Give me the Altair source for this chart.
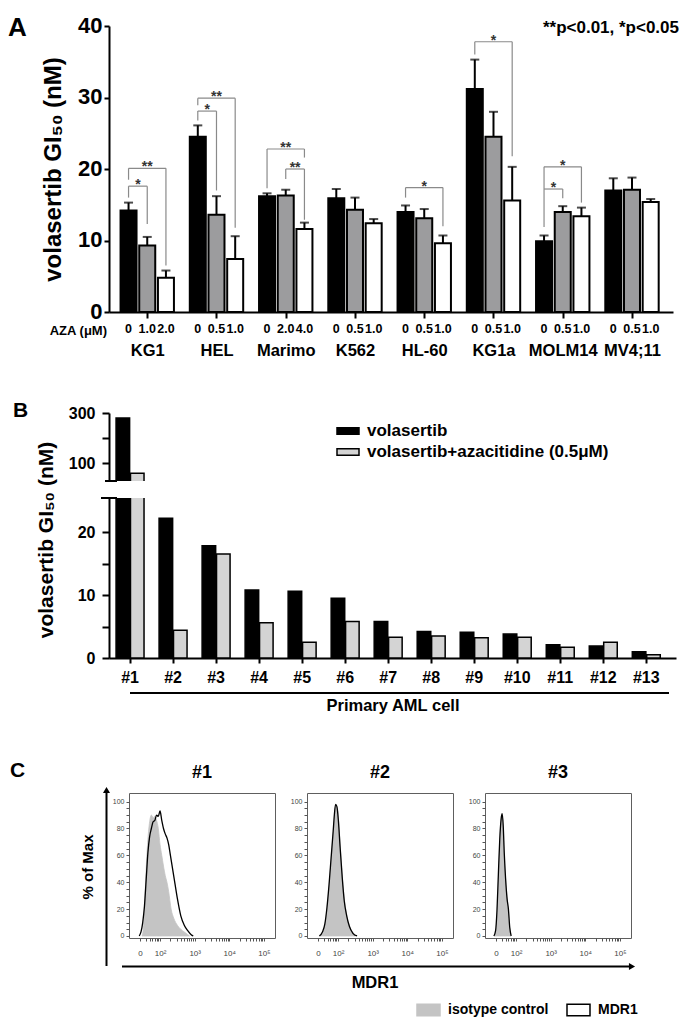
import json
import math
import altair as alt
import pandas as pd

FONT = "Liberation Sans, Arial, Helvetica, sans-serif"

# ---------------- Panel A data ----------------
cell_lines = ["KG1", "HEL", "Marimo", "K562", "HL-60", "KG1a", "MOLM14", "MV4;11"]
aza_dose_labels = [["0", "1.0", "2.0"], ["0", "0.5", "1.0"], ["0", "2.0", "4.0"], ["0", "0.5", "1.0"],
                   ["0", "0.5", "1.0"], ["0", "0.5", "1.0"], ["0", "0.5", "1.0"], ["0", "0.5", "1.0"]]
gi50_no_aza = [14.2, 24.5, 16.2, 15.9, 14.0, 31.2, 9.9, 17.0]
gi50_low_aza = [9.3, 13.6, 16.3, 14.3, 13.1, 24.5, 14.0, 17.1]
gi50_high_aza = [4.8, 7.4, 11.6, 12.4, 9.6, 15.6, 13.4, 15.4]
sd_no_aza = [1.1, 1.6, 0.4, 1.3, 0.9, 4.1, 0.8, 1.7]
sd_low_aza = [1.2, 2.6, 0.8, 1.7, 1.3, 3.5, 0.8, 1.7]
sd_high_aza = [1.0, 3.2, 0.9, 0.6, 1.1, 4.7, 1.2, 0.4]

sig_line = [0, 0, 1, 1, 2, 2, 4, 5, 6, 6]
sig_from = [0, 0, 0, 0, 0, 1, 0, 0, 0, 0]
sig_to = [1, 2, 1, 2, 2, 2, 2, 2, 1, 2]
sig_level = [17.6, 20.1, 28.1, 29.9, 22.8, 20.0, 17.4, 37.8, 17.2, 20.3]
sig_left_end = [16.0, 18.5, 26.8, 28.9, 17.3, 18.6, 16.0, 36.0, 11.9, 17.2]
sig_right_end = [12.3, 6.5, 17.0, 11.8, 21.6, 12.9, 12.0, 21.8, 15.9, 15.3]
sig_label = ["*", "**", "*", "**", "**", "**", "*", "*", "*", "*"]

# ---------------- Panel B data ----------------
patients = ["#1", "#2", "#3", "#4", "#5", "#6", "#7", "#8", "#9", "#10", "#11", "#12", "#13"]
treatments = ["volasertib", "volasertib+azacitidine (0.5μM)"]
gi50_volasertib = [280, 22.2, 17.8, 10.8, 10.6, 9.5, 5.8, 4.2, 4.1, 3.8, 2.1, 1.9, 1.0]
gi50_combination = [61, 4.4, 16.5, 5.6, 2.5, 5.8, 3.3, 3.5, 3.2, 3.3, 1.7, 2.5, 0.5]

# ---------------- Panel C data (x in log10 fluorescence units) ----------------
series_names = ["isotype control", "MDR1"]
hist_titles = ["#1", "#2", "#3"]
iso1_u = [1.48, 1.52, 1.56, 1.60, 1.65, 1.70, 1.75, 1.80, 1.85, 1.90, 1.95, 2.00, 2.05, 2.10, 2.15, 2.20, 2.25, 2.32, 2.40, 2.50, 2.60, 2.70, 2.80, 2.85]
iso1_pct = [0, 6, 25, 50, 72, 85, 90, 88, 89, 86, 80, 68, 60, 52, 45, 40, 33, 20, 13, 8, 5, 3, 1, 0]
mdr1_u = [1.40, 1.45, 1.50, 1.55, 1.60, 1.65, 1.70, 1.75, 1.80, 1.85, 1.90, 1.95, 2.00, 2.05, 2.10, 2.15, 2.20, 2.25, 2.30, 2.40, 2.50, 2.60, 2.70, 2.80, 2.90, 2.96]
mdr1_pct = [0, 3, 10, 22, 42, 62, 74, 80, 85, 86, 90, 89, 93, 86, 80, 76, 73, 68, 60, 44, 28, 15, 8, 4, 1, 0]
iso2_u = [1.48, 1.56, 1.62, 1.68, 1.74, 1.80, 1.86, 1.91, 1.94, 1.98, 2.02, 2.07, 2.12, 2.18, 2.24, 2.32, 2.42, 2.52]
iso2_pct = [0, 2, 8, 20, 36, 56, 76, 92, 96, 94, 84, 65, 45, 28, 17, 8, 3, 0]
mdr2_u = [1.46, 1.55, 1.62, 1.68, 1.74, 1.80, 1.86, 1.90, 1.93, 1.97, 2.01, 2.06, 2.12, 2.18, 2.25, 2.33, 2.43, 2.55]
mdr2_pct = [0, 3, 9, 21, 38, 58, 78, 92, 98, 96, 86, 66, 44, 26, 15, 7, 2, 0]
iso3_u = [1.37, 1.42, 1.46, 1.50, 1.54, 1.58, 1.61, 1.64, 1.68, 1.72, 1.76, 1.80, 1.84]
iso3_pct = [0, 4, 20, 48, 75, 90, 88, 70, 50, 35, 24, 10, 0]
mdr3_u = [1.36, 1.41, 1.45, 1.49, 1.53, 1.57, 1.60, 1.63, 1.66, 1.70, 1.74, 1.78, 1.82, 1.86]
mdr3_pct = [0, 4, 19, 46, 72, 87, 91, 82, 62, 42, 28, 20, 6, 0]

one = pd.DataFrame({"k": [0]})
IND = dict(fill="independent", stroke="independent")


def label(text, x, y, size, angle=0, align="left", baseline="alphabetic", weight="bold", color="black"):
    return alt.Chart(one).mark_text(text=text, font=FONT, fontSize=size, fontWeight=weight, angle=angle,
                                    align=align, baseline=baseline, color=color).encode(
        x=alt.value(x), y=alt.value(y))


def rule(x, x2, y, y2, width=2, color="black"):
    return alt.Chart(one).mark_rule(strokeWidth=width, color=color).encode(
        x=alt.value(x), x2=alt.value(x2), y=alt.value(y), y2=alt.value(y2))


def spacer(h):
    return alt.Chart(one).mark_text(text="").encode(x=alt.value(0)).properties(width=1, height=h)


# ================= Panel A =================
offs = [-0.27, 0.0, 0.27]
rowsA = []
for gi, name in enumerate(cell_lines):
    for di, (vals, sds) in enumerate([(gi50_no_aza, sd_no_aza), (gi50_low_aza, sd_low_aza), (gi50_high_aza, sd_high_aza)]):
        rowsA.append({"line": name, "pos": gi + offs[di], "dose": di, "dose_label": aza_dose_labels[gi][di],
                      "gi50": vals[gi], "upper": vals[gi] + sds[gi]})
dfA = pd.DataFrame(rowsA)

segs, stars = [], []
for k in range(len(sig_line)):
    xf = sig_line[k] + offs[sig_from[k]]
    xt = sig_line[k] + offs[sig_to[k]]
    segs.append({"pos": xf, "pos2": xt, "gi50": sig_level[k], "gi50b": sig_level[k]})
    segs.append({"pos": xf, "pos2": xf, "gi50": sig_level[k], "gi50b": sig_left_end[k]})
    segs.append({"pos": xt, "pos2": xt, "gi50": sig_level[k], "gi50b": sig_right_end[k]})
    stars.append({"pos": (xf + xt) / 2, "gi50": sig_level[k], "label": sig_label[k]})
dfSeg = pd.DataFrame(segs)
dfStar = pd.DataFrame(stars)

WA, HA = 564, 286
xA = alt.Scale(domain=[-0.48, 7.52], nice=False, zero=False)
yA = alt.Scale(domain=[0, 40], nice=False)

barsA = alt.Chart(dfA).mark_bar(width=16, stroke="black", strokeWidth=2).encode(
    x=alt.X("pos:Q", scale=xA, axis=alt.Axis(
        values=list(range(len(cell_lines))), labelExpr=json.dumps(cell_lines) + "[datum.value]",
        title=None, domainWidth=2, tickWidth=2, tickSize=6, labelFont=FONT, labelFontSize=16.5,
        labelFontWeight="bold", labelPadding=24, labelOverlap=False, labelFlush=False)),
    y=alt.Y("gi50:Q", scale=yA, axis=alt.Axis(
        values=[0, 10, 20, 30, 40], title="volasertib GI₅₀ (nM)", titleFont=FONT, titleFontSize=24,
        titleFontWeight="bold", titlePadding=12, labelFont=FONT, labelFontSize=22, labelFontWeight="bold",
        labelPadding=2, labelOffset=-1, tickSize=5, tickWidth=2, domainWidth=2)),
    fill=alt.Fill("dose:N", scale=alt.Scale(domain=[0, 1, 2], range=["black", "#9c9c9e", "white"]), legend=None),
)
errA = alt.Chart(dfA).mark_rule(color="black", strokeWidth=2).encode(
    x="pos:Q", y="gi50:Q", y2="upper:Q")
capA = alt.Chart(dfA).mark_tick(color="black", orient="horizontal", size=9, thickness=2).encode(
    x="pos:Q", y=alt.Y("upper:Q", title="volasertib GI₅₀ (nM)"))
brA = alt.Chart(dfSeg).mark_rule(color="#8a8a8a", strokeWidth=1.2).encode(
    x="pos:Q", x2="pos2:Q", y="gi50:Q", y2="gi50b:Q")
starA = alt.Chart(dfStar).mark_text(font=FONT, fontSize=14, fontWeight="bold", color="#333333",
                                    baseline="alphabetic", dy=3).encode(
    x="pos:Q", y="gi50:Q", text="label:N")
concA = alt.Chart(dfA).mark_text(font=FONT, fontSize=12.5, fontWeight="bold", baseline="middle").encode(
    x="pos:Q", y=alt.value(HA + 17), text="dose_label:N")

panelA = alt.layer(
    barsA, errA, capA, brA, starA, concA,
    label("AZA (μM)", -2, HA + 19, 13, align="right", baseline="middle"),
    label("**p<0.01, *p<0.05", 570, 2, 17, align="right", baseline="middle"),
    label("A", -101, 10, 26),
).properties(width=WA, height=HA)

# ================= Panel B =================
dfB = pd.DataFrame({
    "patient": patients * 2,
    "treatment": [treatments[0]] * len(patients) + [treatments[1]] * len(patients),
    "gi50": gi50_volasertib + gi50_combination,
})
WB, HBU, HBL = 567, 68, 160
xB = alt.Scale(domain=patients, paddingInner=0.35, paddingOuter=0.265, align=0.31)
xoffB = alt.XOffset("treatment:N", scale=alt.Scale(domain=treatments, paddingInner=0.06))
legB = alt.Legend(title=None, orient="none", legendX=227, legendY=6, direction="vertical",
                  symbolType="M-1,-0.3H1V0.3H-1Z", symbolSize=484, symbolStrokeColor="black",
                  symbolStrokeWidth=1.5, labelFont=FONT, labelFontSize=17, labelFontWeight="bold",
                  labelOffset=7, rowPadding=1, labelLimit=400, labelColor="black")
fillB_scale = alt.Scale(domain=treatments, range=["black", "#d4d4d4"])

barsBU = alt.Chart(dfB).mark_bar(clip=True, stroke="black", strokeWidth=1.5).encode(
    x=alt.X("patient:N", scale=xB, axis=None),
    xOffset=xoffB,
    y=alt.Y("gi50:Q", scale=alt.Scale(domain=[30, 300], nice=False, zero=False), axis=alt.Axis(
        values=[100, 200, 300], labelExpr="datum.value == 200 ? '' : datum.label", title=None,
        tickSize=7, tickWidth=2, domainWidth=2, labelFont=FONT, labelFontSize=16,
        labelFontWeight="bold", labelPadding=7)),
    fill=alt.Fill("treatment:N", scale=fillB_scale, legend=legB),
)
panelBU = alt.layer(
    barsBU,
    rule(-4, 8, HBU, HBU),
    label("B", -96, 4, 21),
).properties(width=WB, height=HBU)

barsBL = alt.Chart(dfB).mark_bar(clip=True, stroke="black", strokeWidth=1.5).encode(
    x=alt.X("patient:N", scale=xB, axis=alt.Axis(
        title="Primary AML cell", titleFont=FONT, titleFontSize=16.5, titleFontWeight="bold", titlePadding=12,
        labelFont=FONT, labelFontSize=16, labelFontWeight="bold", labelAngle=0, tickSize=5, tickWidth=2,
        domainWidth=2, labelPadding=6)),
    xOffset=xoffB,
    y=alt.Y("gi50:Q", scale=alt.Scale(domain=[0, 25.4], nice=False), axis=alt.Axis(
        values=[0, 5, 10, 15, 20], labelExpr="datum.value % 10 == 0 ? datum.label : ''", title=None,
        tickSize=7, tickWidth=2, domainWidth=2, labelFont=FONT, labelFontSize=16,
        labelFontWeight="bold", labelPadding=7)),
    fill=alt.Fill("treatment:N", scale=fillB_scale, legend=None),
)
panelBL = alt.layer(
    barsBL,
    rule(-8, 8, 0, 0),
    rule(21, 560, 195, 195),
    label("volasertib GI₅₀ (nM)", -62, 42, 21, angle=270, align="center", baseline="middle"),
).properties(width=WB, height=HBL)

# ================= Panel C =================
WH, HH = 146, 145
xH = alt.Scale(domain=[1.104, 5.32], nice=False, zero=False)
yH = alt.Scale(domain=[-1.5, 106.4], nice=False, zero=False)
x_major = [1.42, 2, 3, 4, 5]
x_minor = [1 + math.log10(k) for k in range(2, 10) if 1 + math.log10(k) > 1.5] + \
          [d + math.log10(k) for d in (2, 3, 4) for k in range(2, 10)]
x_expr = ("abs(datum.value-1.42)<0.001 ? '0' : abs(datum.value-2)<0.001 ? '10²' : "
          "abs(datum.value-3)<0.001 ? '10³' : abs(datum.value-4)<0.001 ? '10⁴' : "
          "abs(datum.value-5)<0.001 ? '10⁵' : ''")
xH_axis = alt.Axis(values=x_major + x_minor, labelExpr=x_expr, title=None, tickSize=3, tickColor="#555555",
                   labelColor="#444444", labelFontSize=8, labelFont=FONT, labelPadding=8, domain=False,
                   labelOverlap=False, labelFlush=False, labelBound=False)
yH_axis = alt.Axis(values=list(range(0, 101, 5)), labelExpr="datum.value % 20 == 0 ? datum.label : ''",
                   title=None, tickSize=3, tickColor="#555555", labelColor="#444444", labelFontSize=7,
                   labelFont=FONT, labelPadding=2, domain=False, labelOverlap=False, labelFlush=False,
                   labelBound=False)
legC = alt.Legend(title=None, orient="none", legendX=287, legendY=204, direction="horizontal",
                  symbolType="M-1,-0.5H1V0.5H-1Z", symbolSize=529, symbolStrokeWidth=1.5,
                  labelFont=FONT, labelFontSize=14, labelFontWeight="bold", labelOffset=7,
                  columnPadding=15, labelLimit=300, labelColor="black")


def hist(title, iso_u, iso_pct, mdr_u, mdr_pct, legend):
    d_iso = pd.DataFrame({"u": iso_u, "pct": iso_pct, "series": series_names[0]})
    d_mdr = pd.DataFrame({"u": mdr_u, "pct": mdr_pct, "series": series_names[1]})
    fill = alt.Fill("series:N", scale=alt.Scale(domain=series_names, range=["#c4c4c4", "white"]), legend=legend)
    stroke = alt.Stroke("series:N", scale=alt.Scale(domain=series_names, range=["#c4c4c4", "black"]), legend=legend)
    area = alt.Chart(d_iso).mark_area(interpolate="monotone", strokeWidth=0.8, opacity=1).encode(
        x=alt.X("u:Q", scale=xH, axis=xH_axis), y=alt.Y("pct:Q", scale=yH, axis=yH_axis),
        fill=fill, stroke=stroke)
    line = alt.Chart(d_mdr).mark_line(interpolate="monotone", strokeWidth=1.3).encode(
        x=alt.X("u:Q", scale=xH, axis=xH_axis), y=alt.Y("pct:Q", scale=yH, axis=yH_axis), stroke=stroke)
    return alt.layer(area, line).properties(
        width=WH, height=HH,
        title=alt.TitleParams(text=title, font=FONT, fontSize=18, fontWeight="bold", offset=11, color="black"),
        view=alt.ViewBackground(stroke="#5e5e5e", strokeWidth=1))


h1 = hist(hist_titles[0], iso1_u, iso1_pct, mdr1_u, mdr1_pct, legC)
h2 = hist(hist_titles[1], iso2_u, iso2_pct, mdr2_u, mdr2_pct, None)
h3 = hist(hist_titles[2], iso3_u, iso3_pct, mdr3_u, mdr3_pct, None)

arrowC = alt.layer(
    rule(-2.5, -2.5, 0, 173),
    alt.Chart(one).mark_point(shape="triangle-up", filled=True, size=50, color="black", opacity=1).encode(
        x=alt.value(-2.5), y=alt.value(-3)),
    rule(13, 520, 173.5, 173.5),
    alt.Chart(one).mark_point(shape="triangle-right", filled=True, size=50, color="black", opacity=1).encode(
        x=alt.value(523), y=alt.value(173.5)),
    label("% of Max", -21, 74, 15, angle=270, align="center", baseline="middle"),
    label("MDR1", 266, 190, 16.5, align="center", baseline="middle"),
    label("C", -99, -16, 21),
).properties(width=20, height=HH)

hists = alt.hconcat(h1, h2, h3, spacing=32, bounds="flush").resolve_scale(**IND).resolve_legend(**IND)
panelC = alt.hconcat(arrowC, hists, spacing=0, bounds="flush").resolve_scale(**IND).resolve_legend(**IND)

chart = alt.vconcat(
    panelA, spacer(66.3), panelBU, panelBL, spacer(101), panelC,
    spacing=17, bounds="flush",
).resolve_scale(**IND).resolve_legend(**IND).properties(
    padding={"left": 0, "top": 6, "right": 5, "bottom": 5}
).configure_view(stroke=None).configure_axis(
    labelColor="black", tickColor="black", domainColor="black", titleColor="black", grid=False
).configure_text(font=FONT, color="black")

chart.save("out.html", embed_options={"renderer": "svg", "actions": False})
